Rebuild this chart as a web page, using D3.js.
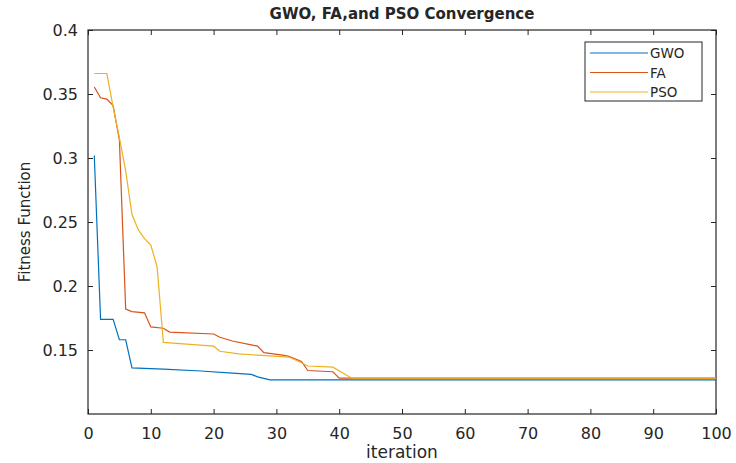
<!DOCTYPE html>
<html>
<head>
<meta charset="utf-8">
<script src="https://cdn.jsdelivr.net/npm/d3@7"></script>
<style>
  body { margin: 0; background: #fff; }
  text { font-family: "DejaVu Sans", "Liberation Sans", Arial, sans-serif; fill: #262626; }
  .axis path, .axis line { stroke: #262626; }
</style>
</head>
<body>
<div id="chart"></div>
<script>
// convergence data (iteration, fitness)
var gwoIter = [1, 2, 4, 5, 6, 7, 12, 18, 23, 26, 27, 29, 100];
var gwoVal  = [0.302, 0.174, 0.174, 0.158, 0.158, 0.136, 0.135, 0.1336, 0.132, 0.131, 0.129, 0.1266, 0.1266];

var faIter = [1, 2, 3, 4, 5, 6, 7, 9, 10, 12, 13, 20, 21, 23, 26, 27, 28, 31, 32, 34, 35, 39, 40, 100];
var faVal  = [0.3555, 0.347, 0.346, 0.341, 0.314, 0.182, 0.180, 0.179, 0.168, 0.167, 0.164, 0.1625, 0.160, 0.157, 0.154, 0.153, 0.148, 0.146, 0.145, 0.141, 0.134, 0.133, 0.128, 0.128];

var psoIter = [1, 3, 4, 5, 6, 7, 8, 9, 10, 11, 12, 20, 21, 24, 27, 32, 34, 35, 39, 42, 100];
var psoVal  = [0.366, 0.366, 0.340, 0.316, 0.290, 0.256, 0.244, 0.237, 0.232, 0.215, 0.156, 0.153, 0.149, 0.147, 0.146, 0.1445, 0.140, 0.1375, 0.1366, 0.128, 0.128];

var seriesNames = ["GWO", "FA", "PSO"];
var seriesColors = ["#0072BD", "#D95319", "#EDB120"];
var xTicks = [0, 10, 20, 30, 40, 50, 60, 70, 80, 90, 100];
var yTicks = [0.15, 0.2, 0.25, 0.3, 0.35, 0.4];

var width = 736, height = 463;
var margin = { top: 30, right: 20, bottom: 49, left: 88 };
var w = width - margin.left - margin.right;
var h = height - margin.top - margin.bottom;

var svg = d3.select("#chart").append("svg")
    .attr("width", width)
    .attr("height", height);

var g = svg.append("g")
    .attr("transform", "translate(" + margin.left + "," + margin.top + ")");

var x = d3.scaleLinear().domain([0, 100]).range([0, w]);
var y = d3.scaleLinear().domain([0.1, 0.4]).range([h, 0]);

var fmt = function(d) { return String(+d.toFixed(2)); };

// axes (ticks pointing inward like matlab, box on)
var xAxis = d3.axisBottom(x).tickValues(xTicks).tickSize(-5).tickPadding(14).tickFormat(fmt);
var yAxis = d3.axisLeft(y).tickValues(yTicks).tickSize(-5).tickPadding(10).tickFormat(fmt);

g.append("g").attr("class", "axis")
    .attr("transform", "translate(0," + h + ")")
    .call(xAxis);
g.append("g").attr("class", "axis")
    .call(yAxis);
g.append("g").attr("class", "axis")
    .call(d3.axisTop(x).tickValues(xTicks).tickSize(-5).tickFormat(""));
g.append("g").attr("class", "axis")
    .attr("transform", "translate(" + w + ",0)")
    .call(d3.axisRight(y).tickValues(yTicks).tickSize(-5).tickFormat(""));

g.selectAll(".axis text")
    .style("font-size", "16px")
    .style("font-family", "'DejaVu Sans', sans-serif")
    .attr("fill", "#262626");
g.selectAll(".domain").remove();

g.append("rect")
    .attr("width", w)
    .attr("height", h)
    .attr("fill", "none")
    .attr("stroke", "#262626")
    .attr("stroke-width", 1.2);

var series = [
    { name: seriesNames[0], iter: gwoIter, vals: gwoVal },
    { name: seriesNames[1], iter: faIter, vals: faVal },
    { name: seriesNames[2], iter: psoIter, vals: psoVal }
];

var line = d3.line()
    .x(function(d) { return x(d[0]); })
    .y(function(d) { return y(d[1]); });

series.forEach(function(s, i) {
    var pts = s.iter.map(function(it, j) { return [it, s.vals[j]]; });
    g.append("path")
        .datum(pts)
        .attr("fill", "none")
        .attr("stroke", seriesColors[i])
        .attr("stroke-width", 1.2)
        .attr("d", line);
});

// title + labels
svg.append("text")
    .attr("x", margin.left + w / 2)
    .attr("y", 19)
    .attr("text-anchor", "middle")
    .style("font-size", "15px")
    .style("font-weight", "bold")
    .text("GWO, FA,and PSO Convergence");

svg.append("text")
    .attr("x", margin.left + w / 2)
    .attr("y", 458)
    .attr("text-anchor", "middle")
    .style("font-size", "17px")
    .text("iteration");

svg.append("text")
    .attr("transform", "translate(30," + (margin.top + h / 2) + ") rotate(-90)")
    .attr("text-anchor", "middle")
    .style("font-size", "15px")
    .text("Fitness Function");

// legend
var legend = svg.append("g").attr("transform", "translate(585,42)");
legend.append("rect")
    .attr("width", 117)
    .attr("height", 59)
    .attr("fill", "#fff")
    .attr("stroke", "#262626")
    .attr("stroke-width", 1);

seriesNames.forEach(function(name, i) {
    var ly = 11 + i * 19.5;
    legend.append("line")
        .attr("x1", 5).attr("x2", 63)
        .attr("y1", ly).attr("y2", ly)
        .attr("stroke", seriesColors[i])
        .attr("stroke-width", 1.2);
    legend.append("text")
        .attr("x", 65)
        .attr("y", ly + 5)
        .style("font-size", "13.5px")
        .text(name);
});
</script>
</body>
</html>
